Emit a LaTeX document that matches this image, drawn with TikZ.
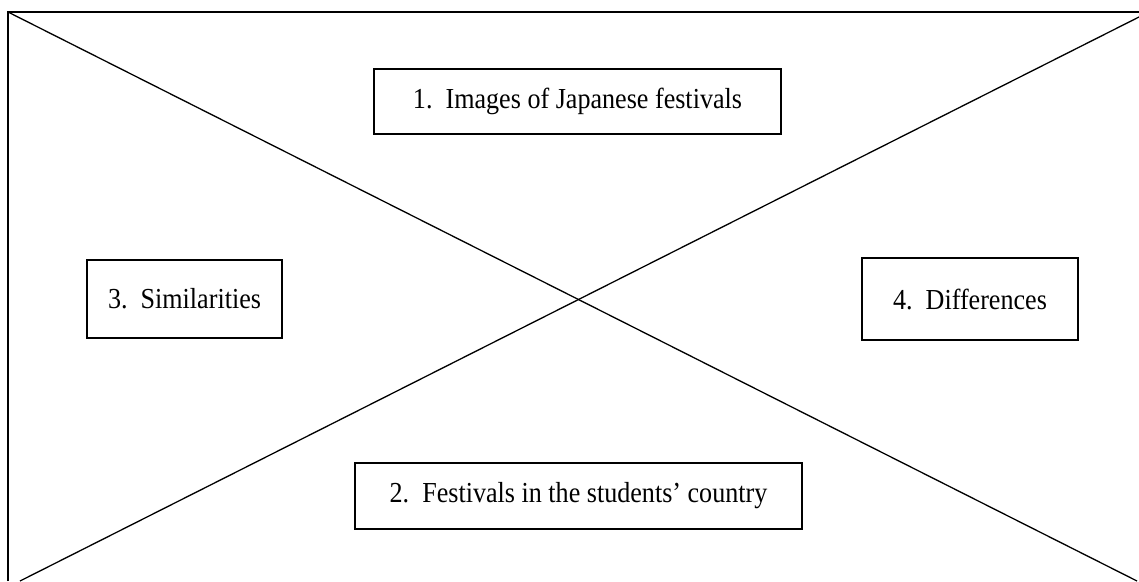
\documentclass[tikz,border=0pt]{standalone}
\usepackage{fontspec}
\setmainfont{Liberation Serif}[FakeStretch=0.9]
\usepackage{tikz}
\tikzstyle{topic} = [rectangle, draw=black, line width=1.3pt, fill=white, text centered, font=\fontsize{29}{32}\selectfont]
\tikzstyle{frame} = [line width=1.3pt]

\begin{document}
\begin{tikzpicture}[x=1pt,y=-1pt]
\useasboundingbox (0,0) rectangle (1139,581);
\coordinate (tl) at (8,12);
\coordinate (tr) at (1139,12);
\coordinate (bl) at (8,581);
\coordinate (br) at (1137,581);
\coordinate (rs) at (1139,17);
\coordinate (ls) at (20,581);
\draw [frame] (bl) -- (tl) -- (tr);
\draw [frame] (tl) -- (br);
\draw [frame] (ls) -- (rs);
\node (images)[topic, minimum width=407pt, minimum height=65pt] at (577.5,101.5) {1.\ \ Images of Japanese festivals};
\node (festivals)[topic, minimum width=447pt, minimum height=66pt] at (578.5,496) {2.\ \ Festivals in the students' country};
\node (similar)[topic, minimum width=195pt, minimum height=78pt] at (184.5,299) {3.\ \ Similarities};
\node (differ)[topic, minimum width=216pt, minimum height=82pt] at (970,299) {4.\ \ Differences};
\end{tikzpicture}
\end{document}
